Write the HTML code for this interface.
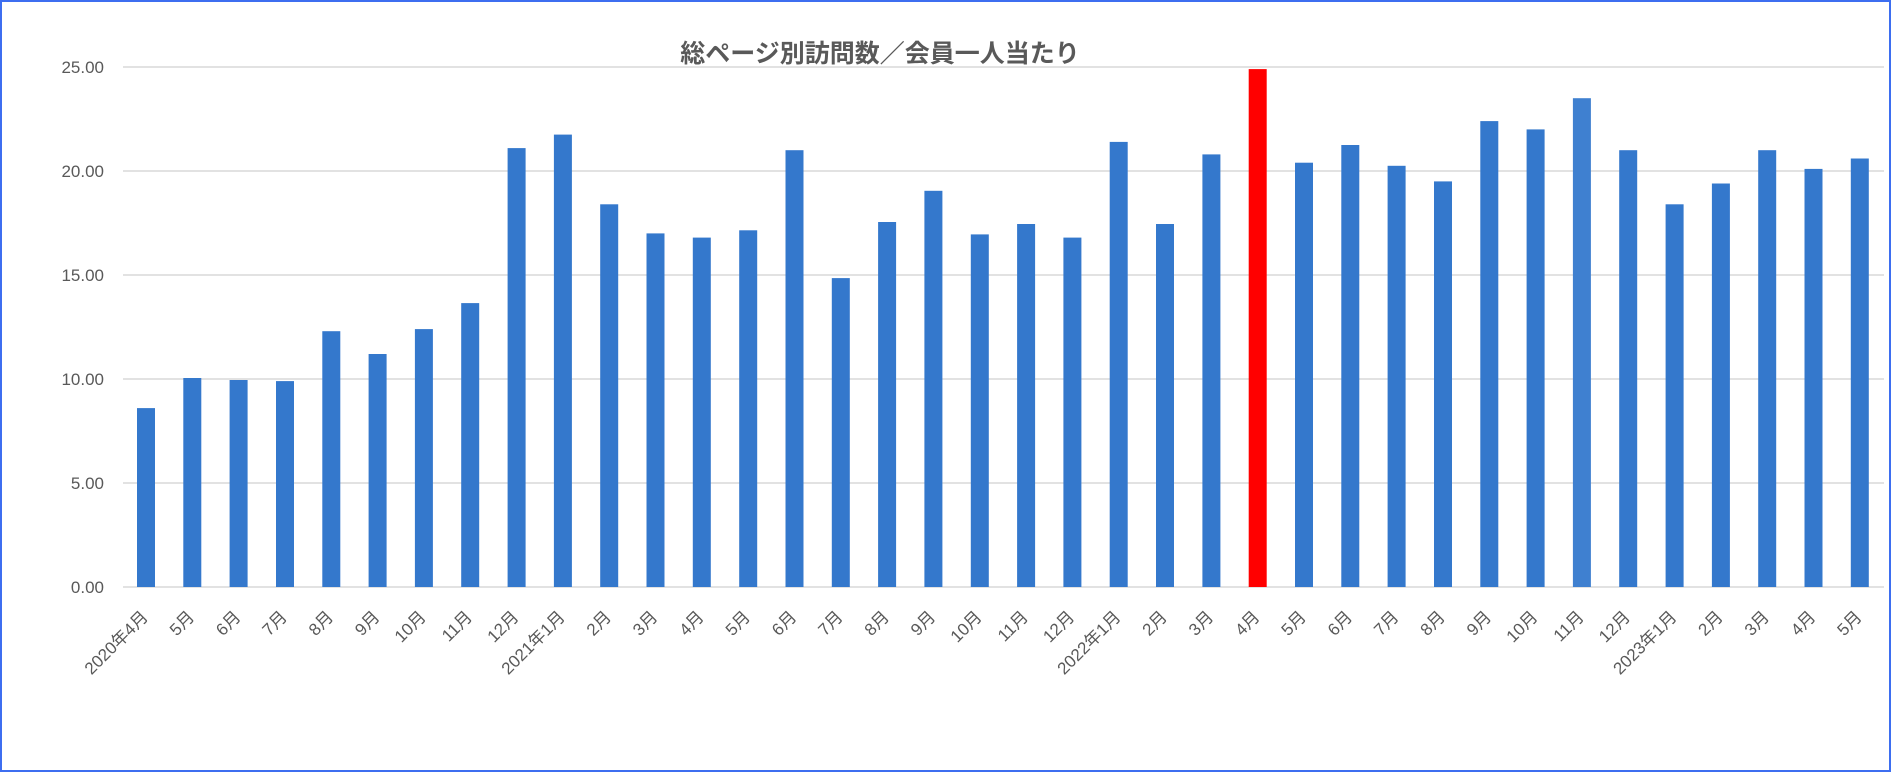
<!DOCTYPE html>
<html><head><meta charset="utf-8"><style>
html,body{margin:0;padding:0;background:#fff;}
svg{display:block;}
</style></head><body>
<svg width="1891" height="773" xmlns="http://www.w3.org/2000/svg" font-family="'Liberation Sans','Noto Sans CJK JP',sans-serif">
<rect x="1" y="1" width="1889" height="770" fill="#fff" stroke="#3d6ef0" stroke-width="2"/>
<g stroke="#d9d9d9" stroke-width="1.5">
<line x1="123" x2="1884" y1="67" y2="67"/>
<line x1="123" x2="1884" y1="171" y2="171"/>
<line x1="123" x2="1884" y1="275" y2="275"/>
<line x1="123" x2="1884" y1="379" y2="379"/>
<line x1="123" x2="1884" y1="483" y2="483"/>
<line x1="123" x2="1884" y1="587" y2="587"/>
</g>
<g fill="#595959" font-size="17" text-anchor="end">
<text x="104" y="73">25.00</text>
<text x="104" y="177">20.00</text>
<text x="104" y="281">15.00</text>
<text x="104" y="385">10.00</text>
<text x="104" y="489">5.00</text>
<text x="104" y="593">0.00</text>
</g>
<text x="880" y="62" text-anchor="middle" font-size="25" font-weight="bold" fill="#595959">総ページ別訪問数／会員一人当たり</text>
<g fill="#3478cc">
<rect x="137" y="408.1" width="18" height="178.9"/>
<rect x="183.3" y="378.0" width="18" height="209.0"/>
<rect x="229.6" y="380.0" width="18" height="207.0"/>
<rect x="276" y="381.1" width="18" height="205.9"/>
<rect x="322.3" y="331.2" width="18" height="255.8"/>
<rect x="368.6" y="354.0" width="18" height="233.0"/>
<rect x="414.9" y="329.1" width="18" height="257.9"/>
<rect x="461.2" y="303.1" width="18" height="283.9"/>
<rect x="507.6" y="148.1" width="18" height="438.9"/>
<rect x="553.9" y="134.6" width="18" height="452.4"/>
<rect x="600.2" y="204.3" width="18" height="382.7"/>
<rect x="646.5" y="233.4" width="18" height="353.6"/>
<rect x="692.8" y="237.6" width="18" height="349.4"/>
<rect x="739.2" y="230.3" width="18" height="356.7"/>
<rect x="785.5" y="150.2" width="18" height="436.8"/>
<rect x="831.8" y="278.1" width="18" height="308.9"/>
<rect x="878.1" y="222.0" width="18" height="365.0"/>
<rect x="924.4" y="190.8" width="18" height="396.2"/>
<rect x="970.8" y="234.4" width="18" height="352.6"/>
<rect x="1017.1" y="224.0" width="18" height="363.0"/>
<rect x="1063.4" y="237.6" width="18" height="349.4"/>
<rect x="1109.7" y="141.9" width="18" height="445.1"/>
<rect x="1156" y="224.0" width="18" height="363.0"/>
<rect x="1202.4" y="154.4" width="18" height="432.6"/>
<rect x="1248.7" y="69.1" width="18" height="517.9" fill="#ff0000"/>
<rect x="1295" y="162.7" width="18" height="424.3"/>
<rect x="1341.3" y="145.0" width="18" height="442.0"/>
<rect x="1387.6" y="165.8" width="18" height="421.2"/>
<rect x="1434" y="181.4" width="18" height="405.6"/>
<rect x="1480.3" y="121.1" width="18" height="465.9"/>
<rect x="1526.6" y="129.4" width="18" height="457.6"/>
<rect x="1572.9" y="98.2" width="18" height="488.8" fill="#3f80d0"/>
<rect x="1619.2" y="150.2" width="18" height="436.8"/>
<rect x="1665.6" y="204.3" width="18" height="382.7"/>
<rect x="1711.9" y="183.5" width="18" height="403.5"/>
<rect x="1758.2" y="150.2" width="18" height="436.8"/>
<rect x="1804.5" y="168.9" width="18" height="418.1"/>
<rect x="1850.8" y="158.5" width="18" height="428.5"/>
</g>
<g fill="#595959" font-size="17" text-anchor="end">
<text transform="translate(149,618) rotate(-45)">2020年4月</text>
<text transform="translate(195.3,618) rotate(-45)">5月</text>
<text transform="translate(241.6,618) rotate(-45)">6月</text>
<text transform="translate(288,618) rotate(-45)">7月</text>
<text transform="translate(334.3,618) rotate(-45)">8月</text>
<text transform="translate(380.6,618) rotate(-45)">9月</text>
<text transform="translate(426.9,618) rotate(-45)">10月</text>
<text transform="translate(473.2,618) rotate(-45)">11月</text>
<text transform="translate(519.6,618) rotate(-45)">12月</text>
<text transform="translate(565.9,618) rotate(-45)">2021年1月</text>
<text transform="translate(612.2,618) rotate(-45)">2月</text>
<text transform="translate(658.5,618) rotate(-45)">3月</text>
<text transform="translate(704.8,618) rotate(-45)">4月</text>
<text transform="translate(751.2,618) rotate(-45)">5月</text>
<text transform="translate(797.5,618) rotate(-45)">6月</text>
<text transform="translate(843.8,618) rotate(-45)">7月</text>
<text transform="translate(890.1,618) rotate(-45)">8月</text>
<text transform="translate(936.4,618) rotate(-45)">9月</text>
<text transform="translate(982.8,618) rotate(-45)">10月</text>
<text transform="translate(1029.1,618) rotate(-45)">11月</text>
<text transform="translate(1075.4,618) rotate(-45)">12月</text>
<text transform="translate(1121.7,618) rotate(-45)">2022年1月</text>
<text transform="translate(1168,618) rotate(-45)">2月</text>
<text transform="translate(1214.4,618) rotate(-45)">3月</text>
<text transform="translate(1260.7,618) rotate(-45)">4月</text>
<text transform="translate(1307,618) rotate(-45)">5月</text>
<text transform="translate(1353.3,618) rotate(-45)">6月</text>
<text transform="translate(1399.6,618) rotate(-45)">7月</text>
<text transform="translate(1446,618) rotate(-45)">8月</text>
<text transform="translate(1492.3,618) rotate(-45)">9月</text>
<text transform="translate(1538.6,618) rotate(-45)">10月</text>
<text transform="translate(1584.9,618) rotate(-45)">11月</text>
<text transform="translate(1631.2,618) rotate(-45)">12月</text>
<text transform="translate(1677.6,618) rotate(-45)">2023年1月</text>
<text transform="translate(1723.9,618) rotate(-45)">2月</text>
<text transform="translate(1770.2,618) rotate(-45)">3月</text>
<text transform="translate(1816.5,618) rotate(-45)">4月</text>
<text transform="translate(1862.8,618) rotate(-45)">5月</text>
</g>
</svg>
</body></html>
